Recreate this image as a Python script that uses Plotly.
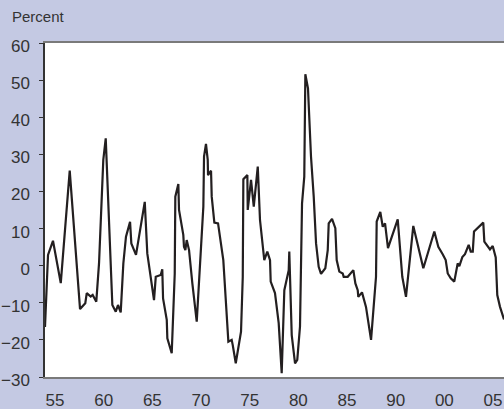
import plotly.graph_objects as go

# Years (axis positions as labelled on the chart) and percent values
years = [1953.97, 1954.28, 1954.79, 1955.59, 1956.51, 1957.57, 1958.11, 1958.26, 1958.67, 1958.87,
         1959.24, 1959.52, 1959.96, 1960.21, 1960.89, 1961.24, 1961.47, 1961.75, 1962.02, 1962.29,
         1962.71, 1962.84, 1963.32, 1963.81, 1964.22, 1964.48, 1965.17, 1965.35, 1965.86, 1966.02,
         1966.10, 1966.48, 1966.54, 1966.99, 1967.30, 1967.36, 1967.67, 1967.74, 1968.02, 1968.18,
         1968.25, 1968.39, 1968.53, 1968.77, 1969.11, 1969.56, 1970.24, 1970.31, 1970.51, 1970.69,
         1970.72, 1971.03, 1971.10, 1971.37, 1971.75, 1972.29, 1972.81, 1973.15, 1973.26, 1973.57,
         1974.11, 1974.29, 1974.35, 1974.76, 1974.80, 1975.14, 1975.42, 1975.83, 1976.06, 1976.50,
         1976.81, 1977.09, 1977.16, 1977.60, 1977.98, 1978.29, 1978.56, 1979.01, 1979.07, 1979.32,
         1979.66, 1979.89, 1980.17, 1980.38, 1980.61, 1980.72, 1980.99, 1981.30, 1981.58, 1981.82,
         1982.09, 1982.33, 1982.77, 1983.02, 1983.12, 1983.46, 1983.80, 1983.94, 1984.21, 1984.56,
         1984.66, 1985.07, 1985.65, 1985.86, 1986.10, 1986.16, 1986.54, 1986.95, 1987.47, 1987.98,
         1988.05, 1988.42, 1988.67, 1988.91, 1989.21, 1990.21, 1990.68, 1991.06, 1991.81, 1992.84,
         1993.97, 1994.38, 1994.83, 1995.14, 1995.35, 1995.66, 1996.02, 1996.37, 1996.54, 1996.85,
         1997.12, 1997.50, 1997.71, 1997.92, 1998.05, 1998.59, 1999.00, 1999.11, 1999.42, 1999.69,
         1999.97, 2000.28, 2000.44, 2000.72, 2001.13]
values = [-16.5, 2.9, 6.7, -4.7, 25.6, -11.7, -10.1, -7.4, -8.3, -7.9,
          -9.7, 0.6, 28.5, 34.3, -10.6, -12.4, -10.6, -12.6, 0.6, 7.8,
          11.8, 6.0, 2.9, 10.5, 17.2, 3.3, -9.3, -3.0, -2.5, -1.0,
          -8.8, -14.6, -19.6, -23.6, -2.1, 18.6, 22.0, 15.0, 10.5, 8.3,
          5.1, 4.2, 6.9, 4.2, -4.8, -15.1, 15.9, 29.4, 32.8, 28.5,
          24.4, 25.6, 18.6, 11.6, 11.4, 1.5, -20.5, -20.0, -21.4, -26.3,
          -17.8, -3.0, 23.3, 24.4, 15.0, 23.1, 15.9, 26.7, 12.3, 1.5,
          3.8, 1.5, -4.3, -7.4, -15.5, -29.0, -6.6, -1.2, 3.8, -18.7,
          -26.3, -25.4, -16.4, 16.8, 24.0, 51.6, 47.8, 29.4, 18.6, 6.0,
          -0.3, -2.2, -0.7, 4.2, 11.4, 12.6, 10.1, 1.5, -1.6, -2.1,
          -3.0, -3.0, -1.2, -4.8, -6.6, -8.4, -7.2, -11.1, -20.0, -3.0,
          11.9, 14.5, 10.5, 11.4, 4.7, 12.5, -3.0, -8.4, 10.7, -0.7,
          9.2, 5.1, 3.1, 1.5, -2.1, -3.4, -4.3, 0.6, -0.1, 2.3,
          3.1, 5.6, 3.8, 3.8, 9.2, 10.5, 11.6, 6.5, 5.3, 4.4,
          5.3, 2.2, -7.9, -11.1, -14.5]

x_tickvals = [1955, 1960, 1965, 1970, 1975, 1980, 1985, 1990, 1995, 2000]
x_ticktext = ["55", "60", "65", "70", "75", "80", "85", "90", "00", "05"]
y_tickvals = [-30, -20, -10, 0, 10, 20, 30, 40, 50, 60]

BG = "#c4c9e3"
TXT = "#333333"
FONT = "Liberation Sans"

fig = go.Figure()
fig.add_trace(go.Scatter(x=years, y=values, mode="lines",
                         line=dict(color="#231f20", width=2.2), hoverinfo="skip"))

fig.update_layout(
    width=504, height=409,
    paper_bgcolor=BG, plot_bgcolor="white",
    margin=dict(l=45, r=0, t=43, b=32),
    showlegend=False,
    font=dict(family=FONT, color=TXT, size=17),
    xaxis=dict(range=[1953.97, 2001.13], tickvals=x_tickvals, ticktext=x_ticktext,
               showgrid=False, zeroline=False, ticks="", showline=True,
               linecolor="#7a7a7a", linewidth=2, mirror=True,
               tickfont=dict(size=17, family=FONT, color=TXT), ticklabelstandoff=7),
    yaxis=dict(range=[-30, 60], tickvals=y_tickvals, showgrid=False, zeroline=False,
               ticks="outside", ticklen=4, tickcolor="#333333", tickwidth=1,
               showline=True, linecolor="#333333", linewidth=1.5,
               tickfont=dict(size=17, family=FONT, color=TXT), ticklabelstandoff=6,
               ticklabelshift=3),
    annotations=[dict(text="Percent", x=(10 - 45) / 459, y=(377 - 17) / 334,
                      xref="paper", yref="paper", xanchor="left", yanchor="middle",
                      showarrow=False, font=dict(size=15, family=FONT, color=TXT))],
)

fig.write_html("out.html", config={"displayModeBar": False},
               post_script="document.body.style.margin='0';document.body.style.padding='0';")
